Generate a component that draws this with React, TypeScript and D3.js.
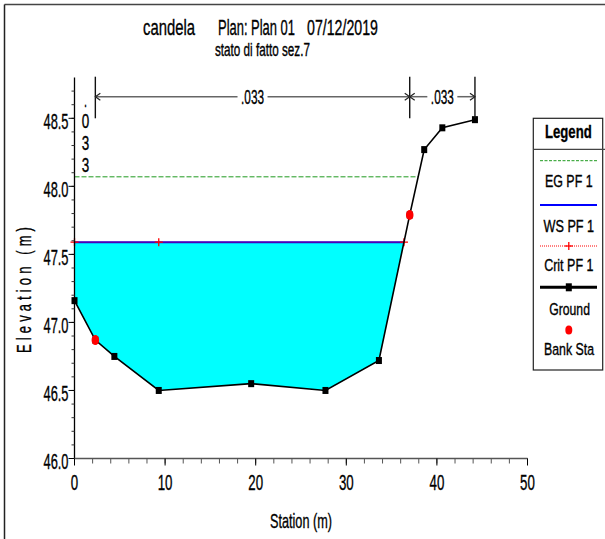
import React, { useLayoutEffect, useRef, useState } from 'react';
import * as d3 from 'd3';

const titleParts = ['candela', 'Plan: Plan 01', '07/12/2019'];
const subtitle = 'stato di fatto sez.7';
const groundStation = [0, 2.3, 4.4, 9.3, 19.5, 27.7, 33.6, 37.0, 38.6, 40.6, 44.2];
const groundElev = [47.16, 46.87, 46.75, 46.5, 46.55, 46.5, 46.72, 47.79, 48.27, 48.43, 48.49];
const bankStation = [2.3, 37.0];
const bankElev = [46.87, 47.79];
const wsElev = 47.59;
const critElev = 47.59;
const egElev = 48.07;
const critMarkerStations = [0, 9.3];
const nBreaks = [2.3, 37.0, 44.2];
const nLabels = ['.033', '.033'];
const nLeftLabel = ['.', '0', '3', '3'];
const xTicks = [0, 10, 20, 30, 40, 50];
const xTickLabels = ['0', '10', '20', '30', '40', '50'];
const yTicks = [46.0, 46.5, 47.0, 47.5, 48.0, 48.5];
const yTickLabels = ['46.0', '46.5', '47.0', '47.5', '48.0', '48.5'];
const legendLabels = ['EG PF 1', 'WS PF 1', 'Crit PF 1', 'Ground', 'Bank Sta'];

const FONT = 'Liberation Sans, Arial, sans-serif';

function Txt(p: any) {
  const ref = useRef<SVGTextElement>(null);
  const [k, setK] = useState(0.65);
  useLayoutEffect(() => {
    if (ref.current) {
      const n = ref.current.getComputedTextLength();
      if (n > 0) setK(p.w / n);
    }
  }, [p.w, p.children, p.size]);
  return (
    <g transform={`translate(${p.x},${p.y}) scale(${k},1)`}>
      <text
        ref={ref}
        x={0}
        y={0}
        fontSize={p.size}
        fontFamily={FONT}
        fontWeight={p.bold ? 'bold' : 'normal'}
        textAnchor={p.anchor || 'start'}
        fill={p.fill || '#000'}
        stroke="#000"
        strokeWidth={0.35}
      >
        {p.children}
      </text>
    </g>
  );
}

function rightCrossing(level: number) {
  const iMin = groundElev.indexOf(d3.min(groundElev) as number);
  for (let i = iMin; i < groundElev.length - 1; i++) {
    const a = groundElev[i], b = groundElev[i + 1];
    if (a <= level && b >= level) {
      return groundStation[i] + ((level - a) / (b - a)) * (groundStation[i + 1] - groundStation[i]);
    }
  }
  return groundStation[groundStation.length - 1];
}

export default function App() {
  const x = d3.scaleLinear().domain([0, 50]).range([74.5, 527.5]);
  const y = d3.scaleLinear().domain([46, 48.5]).range([458.5, 118.3]);
  const yTop = y(48.8);

  const wsRight = rightCrossing(wsElev);
  const egRight = rightCrossing(egElev);

  const waterPts: [number, number][] = [[0, wsElev]];
  groundStation.forEach((s, i) => {
    if (s <= wsRight && groundElev[i] <= wsElev) waterPts.push([s, groundElev[i]]);
  });
  waterPts.push([wsRight, wsElev]);
  const line = d3.line<[number, number]>().x(d => x(d[0])).y(d => y(d[1]));

  const groundPts: [number, number][] = groundStation.map((s, i) => [s, groundElev[i]]);

  const yMinor = d3.range(46.0, 48.75, 0.1);
  const xMinor = d3.range(0, 50.1, 2);

  const crossMarks = [...critMarkerStations, wsRight];
  const annY = 96.7;
  const vTop = 76.7;
  const vBot = 118.3;

  const chevron = (px: number, dir: number) =>
    `M${px + dir * 5},${annY - 3.5} L${px},${annY} L${px + dir * 5},${annY + 3.5}`;

  const legX1 = 540, legX2 = 597, legC = 568.8;

  return (
    <svg width={605} height={539} style={{ position: 'absolute', left: 0, top: 0, background: '#fff' }}>
      <line x1={4.5} y1={4.5} x2={605} y2={4.5} stroke="#444" strokeWidth={1.5} />
      <line x1={4.5} y1={4.5} x2={4.5} y2={539} stroke="#222" strokeWidth={1.5} />

      <Txt x={143} y={35} size={22} w={52}>{titleParts[0]}</Txt>
      <Txt x={218} y={35} size={22} w={77}>{titleParts[1]}</Txt>
      <Txt x={307} y={35} size={22} w={71}>{titleParts[2]}</Txt>
      <Txt x={215} y={56} size={17.5} w={95}>{subtitle}</Txt>

      <path d={line(waterPts) + 'Z'} fill="#00ffff" stroke="none" />

      <line x1={x(0)} x2={x(egRight)} y1={y(egElev)} y2={y(egElev)} stroke="#1f9a1f" strokeWidth={1} strokeDasharray="5,2" />
      <line x1={x(0)} x2={x(wsRight)} y1={y(wsElev)} y2={y(wsElev)} stroke="#0000ff" strokeWidth={2} />
      <line x1={x(0)} x2={x(wsRight)} y1={y(critElev)} y2={y(critElev)} stroke="#ff0000" strokeWidth={1} strokeDasharray="1,1" />
      {crossMarks.map((s, i) => (
        <g key={'c' + i} stroke="#ff0000" strokeWidth={1.3}>
          <line x1={x(s) - 4} x2={x(s) + 4} y1={y(critElev)} y2={y(critElev)} />
          <line x1={x(s)} x2={x(s)} y1={y(critElev) - 4} y2={y(critElev) + 4} />
        </g>
      ))}

      <path d={line(groundPts) || ''} fill="none" stroke="#000" strokeWidth={1.6} />
      {groundPts.map((d, i) => (
        <rect key={'g' + i} x={x(d[0]) - 3} y={y(d[1]) - 3.5} width={6} height={7} fill="#000" />
      ))}
      {bankStation.map((s, i) => (
        <ellipse key={'b' + i} cx={x(s)} cy={y(bankElev[i])} rx={3.8} ry={5} fill="#ff0000" />
      ))}

      <line x1={x(0)} x2={x(0)} y1={y(46)} y2={yTop} stroke="#000" strokeWidth={1.3} />
      {yMinor.map((v, i) => (
        <line key={'ym' + i} x1={x(0) - 3} x2={x(0)} y1={y(v)} y2={y(v)} stroke="#333" strokeWidth={1} />
      ))}
      {yTicks.map((v, i) => (
        <g key={'yt' + i}>
          <line x1={x(0) - 6} x2={x(0)} y1={y(v)} y2={y(v)} stroke="#000" strokeWidth={1} />
          <Txt x={68.5} y={y(v) + 10.5} size={21.5} w={25} anchor="end">{yTickLabels[i]}</Txt>
        </g>
      ))}
      <line x1={x(0)} x2={x(50)} y1={y(46)} y2={y(46)} stroke="#555" strokeWidth={1.3} />
      {xMinor.map((v, i) => (
        <line key={'xm' + i} x1={x(v)} x2={x(v)} y1={y(46)} y2={y(46) + 5} stroke="#555" strokeWidth={1} />
      ))}
      {xTicks.map((v, i) => (
        <g key={'xt' + i}>
          <line x1={x(v)} x2={x(v)} y1={y(46)} y2={y(46) + 7} stroke="#000" strokeWidth={1} />
          <Txt x={x(v)} y={490} size={21.5} w={xTickLabels[i].length * 7.4} anchor="middle">{xTickLabels[i]}</Txt>
        </g>
      ))}
      <Txt x={270} y={528} size={20} w={62}>Station (m)</Txt>
      <g transform="translate(31,290) rotate(-90) scale(0.62,1)">
        <text x={0} y={0} fontSize={21} fontFamily={FONT} textAnchor="middle" textLength={203} lengthAdjust="spacing" fill="#000" stroke="#000" strokeWidth={0.35}>
          Elevation (m)
        </text>
      </g>

      {nBreaks.map((s, i) => (
        <line key={'nb' + i} x1={x(s)} x2={x(s)} y1={vTop} y2={vBot} stroke="#111" strokeWidth={1.4} />
      ))}
      {nLabels.map((lab, i) => {
        const a = x(nBreaks[i]), b = x(nBreaks[i + 1]);
        const c = (a + b) / 2;
        return (
          <g key={'nl' + i}>
            <line x1={a} x2={c - 15} y1={annY} y2={annY} stroke="#666" strokeWidth={1.5} />
            <line x1={c + 15} x2={b} y1={annY} y2={annY} stroke="#666" strokeWidth={1.5} />
            <path d={chevron(a, 1)} fill="none" stroke="#222" strokeWidth={1.2} />
            <path d={chevron(b, -1)} fill="none" stroke="#222" strokeWidth={1.2} />
            <Txt x={c} y={annY + 7} size={20} w={23} anchor="middle">{lab}</Txt>
          </g>
        );
      })}
      {nLeftLabel.map((ch, i) => (
        <Txt key={'lv' + i} x={85.5} y={106.6 + i * 21.7} size={20} w={ch === '.' ? 3 : 7.5} anchor="middle">{ch}</Txt>
      ))}

      <rect x={533.3} y={118.3} width={69.4} height={251.7} fill="#fff" stroke="#222" strokeWidth={1.2} />
      <line x1={533.3} x2={605} y1={149.3} y2={149.3} stroke="#444" strokeWidth={1.2} />
      <Txt x={545} y={138} size={18.5} w={46.7} bold>Legend</Txt>
      <line x1={legX1} x2={legX2} y1={160.7} y2={160.7} stroke="#1f9a1f" strokeWidth={1} strokeDasharray="3,1.5" />
      <Txt x={568.8} y={187.3} size={16.5} w={47.7} anchor="middle">{legendLabels[0]}</Txt>
      <line x1={legX1} x2={legX2} y1={205} y2={205} stroke="#0000ff" strokeWidth={2} />
      <Txt x={568.8} y={231.7} size={16.5} w={50.7} anchor="middle">{legendLabels[1]}</Txt>
      <line x1={legX1} x2={legX2} y1={246} y2={246} stroke="#ff0000" strokeWidth={1} strokeDasharray="1,1" />
      <line x1={legC - 4} x2={legC + 4} y1={246} y2={246} stroke="#ff0000" strokeWidth={1.3} />
      <line x1={legC} x2={legC} y1={242} y2={250} stroke="#ff0000" strokeWidth={1.3} />
      <Txt x={568.8} y={270.7} size={16.5} w={49.3} anchor="middle">{legendLabels[2]}</Txt>
      <line x1={legX1} x2={legX2} y1={287.3} y2={287.3} stroke="#000" strokeWidth={3} />
      <rect x={legC - 3} y={283.3} width={6} height={8} fill="#000" />
      <Txt x={569.6} y={315} size={16.5} w={40.7} anchor="middle">{legendLabels[3]}</Txt>
      <ellipse cx={legC} cy={330} rx={3.5} ry={4.5} fill="#ff0000" />
      <Txt x={569} y={355} size={16.5} w={50} anchor="middle">{legendLabels[4]}</Txt>
    </svg>
  );
}
